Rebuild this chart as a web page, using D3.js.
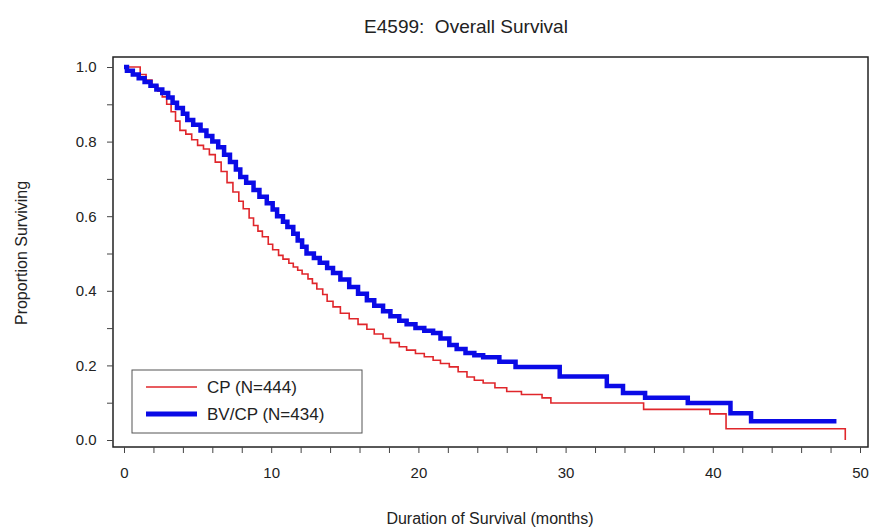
<!DOCTYPE html>
<html lang="en">
<head>
<meta charset="UTF-8">
<title>E4599 Overall Survival</title>
<script src="https://d3js.org/d3.v7.min.js"></script>
<style>
    body { margin: 0; background: #fff; font-family: Arial, "Liberation Sans", sans-serif; }
</style>
</head>
<body>
<div id="chart"></div>
<script>
    // Kaplan-Meier step data (months, proportion surviving)
    const cpTime = [0, 1.1, 1.5, 1.9, 2.3, 2.6, 2.9, 3.2, 3.5, 3.8, 4.2, 4.6, 5.0, 5.4, 5.8, 6.2, 6.6, 7.0, 7.4, 7.8, 8.1, 8.5, 8.8, 9.1, 9.4, 9.8, 10.1, 10.5, 10.8, 11.2, 11.5, 11.8, 12.1, 12.5, 12.8, 13.1, 13.5, 13.8, 14.2, 14.7, 15.3, 15.9, 16.5, 17.0, 17.6, 18.1, 18.7, 19.2, 19.8, 20.4, 21, 21.5, 22.1, 22.7, 23.3, 23.8, 24.4, 25.2, 26, 27, 28.4, 29, 35.3, 39.8, 40.9, 49];
    const cpSurv = [1.0, 0.98, 0.965, 0.95, 0.935, 0.92, 0.90, 0.88, 0.855, 0.83, 0.82, 0.805, 0.79, 0.78, 0.765, 0.745, 0.72, 0.69, 0.665, 0.64, 0.62, 0.595, 0.575, 0.56, 0.545, 0.525, 0.51, 0.495, 0.485, 0.474, 0.464, 0.455, 0.445, 0.432, 0.42, 0.405, 0.39, 0.372, 0.357, 0.34, 0.325, 0.31, 0.297, 0.284, 0.272, 0.261, 0.25, 0.241, 0.232, 0.223, 0.214, 0.205, 0.196, 0.183, 0.169, 0.16, 0.153, 0.14, 0.13, 0.122, 0.113, 0.099, 0.082, 0.07, 0.03, 0.0];
    const bvTime = [0, 0.2, 0.6, 1.0, 1.4, 1.8, 2.2, 2.6, 3.0, 3.3, 3.6, 4.0, 4.3, 4.7, 5.2, 5.6, 6.0, 6.4, 6.8, 7.2, 7.6, 7.9, 8.3, 8.8, 9.2, 9.7, 10.1, 10.4, 10.8, 11.1, 11.5, 11.8, 12.1, 12.4, 12.9, 13.3, 13.8, 14.2, 14.7, 15.3, 15.9, 16.5, 17.0, 17.6, 18.1, 18.7, 19.2, 19.8, 20.4, 21, 21.5, 22.1, 22.6, 23.2, 23.8, 24.4, 25.5, 26.6, 29.6, 30.5, 32.8, 33.9, 35.4, 38.3, 41.2, 42.6, 48.4];
    const bvSurv = [1.0, 0.99, 0.98, 0.97, 0.96, 0.95, 0.94, 0.93, 0.918, 0.904, 0.89, 0.875, 0.858, 0.845, 0.83, 0.815, 0.80, 0.785, 0.765, 0.745, 0.725, 0.705, 0.69, 0.67, 0.652, 0.635, 0.618, 0.60, 0.585, 0.571, 0.553, 0.535, 0.518, 0.50, 0.488, 0.475, 0.461, 0.448, 0.43, 0.41, 0.392, 0.375, 0.36, 0.345, 0.332, 0.32, 0.31, 0.30, 0.293, 0.287, 0.272, 0.255, 0.244, 0.233, 0.227, 0.222, 0.21, 0.196, 0.17, 0.17, 0.145, 0.126, 0.113, 0.099, 0.072, 0.05, 0.05];
    const seriesNames = ['CP (N=444)', 'BV/CP (N=434)'];
    const seriesColors = ['#e0262b', '#0a0ae6'];
    const xTicks = [0, 10, 20, 30, 40, 50];
    const yTicks = [0.0, 0.2, 0.4, 0.6, 0.8, 1.0];

    const width = 874, height = 529;
    const box = { left: 113, top: 57, right: 868, bottom: 447 };

    const svg = d3.select('#chart').append('svg')
        .attr('width', width).attr('height', height);

    const x = d3.scaleLinear().domain([0, 50]).range([124, 860]);
    const y = d3.scaleLinear().domain([0, 1]).range([440, 67]);

    svg.append('rect')
        .attr('x', box.left).attr('y', box.top)
        .attr('width', box.right - box.left).attr('height', box.bottom - box.top)
        .attr('fill', 'none').attr('stroke', '#222').attr('stroke-width', 1.5);

    const xAxis = svg.append('g')
        .attr('transform', `translate(0,${box.bottom})`)
        .call(d3.axisBottom(x).tickValues(d3.range(0, 51, 2)).tickSize(6)
            .tickFormat(d => xTicks.includes(d) ? d : ''));
    const yAxis = svg.append('g')
        .attr('transform', `translate(${box.left},0)`)
        .call(d3.axisLeft(y).tickValues(d3.range(0, 1.01, 0.1)).tickSize(6)
            .tickFormat(d => yTicks.some(t => Math.abs(t - d) < 1e-6) ? d.toFixed(1) : ''));
    [xAxis, yAxis].forEach(g => {
        g.select('.domain').remove();
        g.selectAll('line').attr('stroke', '#444');
        g.selectAll('text').attr('font-size', 15).attr('fill', '#222')
            .attr('font-family', 'Arial, "Liberation Sans", sans-serif');
    });
    xAxis.selectAll('text').attr('y', 20).attr('dy', '0.71em');
    yAxis.selectAll('text').attr('dx', '-0.5em');

    const line = d3.line().x(d => x(d[0])).y(d => y(d[1])).curve(d3.curveStepAfter);
    const cpData = cpTime.map((t, i) => [t, cpSurv[i]]);
    const bvData = bvTime.map((t, i) => [t, bvSurv[i]]);

    svg.append('path').datum(cpData).attr('d', line)
        .attr('fill', 'none').attr('stroke', seriesColors[0]).attr('stroke-width', 1.6);
    svg.append('path').datum(bvData).attr('d', line)
        .attr('fill', 'none').attr('stroke', seriesColors[1]).attr('stroke-width', 4.5);

    // legend
    const lg = svg.append('g');
    lg.append('rect').attr('x', 132).attr('y', 370).attr('width', 230).attr('height', 63)
        .attr('fill', '#fff').attr('stroke', '#555').attr('stroke-width', 1);
    seriesNames.forEach((name, i) => {
        const ly = 387 + i * 27;
        lg.append('line').attr('x1', 146).attr('x2', 197).attr('y1', ly).attr('y2', ly)
            .attr('stroke', seriesColors[i]).attr('stroke-width', i === 0 ? 1.6 : 5);
        lg.append('text').attr('x', 207).attr('y', ly + 6).text(name)
            .attr('font-size', 17).attr('fill', '#222');
    });

    svg.append('text').attr('x', 466).attr('y', 33).attr('text-anchor', 'middle')
        .attr('font-size', 19).attr('fill', '#222').text('E4599:  Overall Survival')
        .style('white-space', 'pre');
    svg.append('text').attr('x', 490).attr('y', 524).attr('text-anchor', 'middle')
        .attr('font-size', 16).attr('fill', '#222').text('Duration of Survival (months)');
    svg.append('text').attr('transform', 'translate(27,253) rotate(-90)')
        .attr('text-anchor', 'middle').attr('font-size', 16).attr('fill', '#222')
        .text('Proportion Surviving');
</script>
</body>
</html>
